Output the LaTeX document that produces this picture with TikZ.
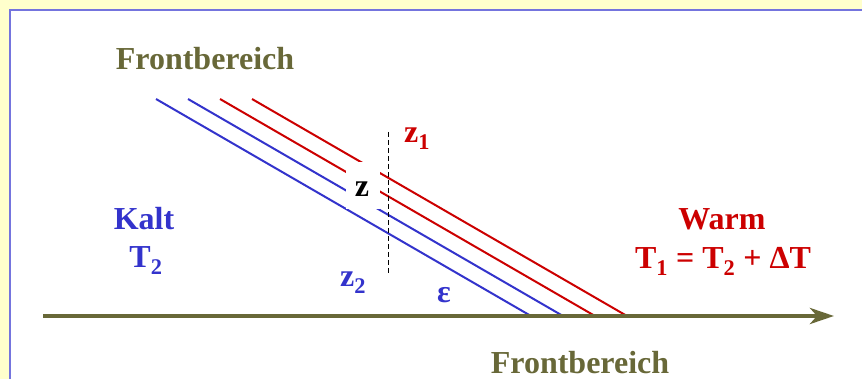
\documentclass[tikz,border=0pt]{standalone}
\usepackage{fontspec}
\setmainfont{Liberation Serif}
\usetikzlibrary{arrows.meta}

\definecolor{olivefront}{RGB}{104,104,56}
\definecolor{coldblue}{RGB}{51,51,204}
\definecolor{warmred}{RGB}{204,0,0}
\definecolor{framebg}{RGB}{255,255,204}
\definecolor{frameline}{RGB}{116,116,222}

\begin{document}
\begin{tikzpicture}[x=1pt,y=-1pt,>=Stealth,
    lbl/.style={font=\fontsize{32}{37}\selectfont\bfseries, inner sep=0pt, anchor=base},
    isoline/.style={line width=2pt}]
    % frame
    \useasboundingbox (0,0) rectangle (862,379);
    \clip (0,0) rectangle (862,379);
    \fill[framebg] (0,0) rectangle (862,379);
    \draw[frameline, line width=2.2pt, fill=white] (10,10) rectangle (890,410);

    % isolines
    \foreach \i/\col in {0/coldblue,1/coldblue,2/warmred,3/warmred} {
      \draw[isoline, \col] (156+32*\i,99) -- (531+32*\i,316);
    }

    % gap round z and cut
    \node[fill=white, inner sep=0pt, minimum width=34pt, minimum height=47pt]
      (gap) at (363,185.5) {};
    \node[lbl, text=black] (zMid) at (362,197) {z};
    \coordinate (cutTop) at (388,132);
    \coordinate (cutBot) at (388,275);
    \draw[black, line width=1pt, dash pattern=on 5pt off 3pt] (cutTop) -- (cutBot);

    % axis
    \coordinate (axisL) at (43,316);
    \coordinate (axisR) at (834,316);
    \draw[-{Stealth[length=24pt,width=16pt,inset=7pt]}, line width=4.5pt, olivefront]
      (axisL) -- (axisR);

    % labels
    \node[lbl, text=olivefront] (frontTop) at (205,70) {Frontbereich};
    \node[lbl, text=olivefront] (frontBot) at (580,373) {Frontbereich};
    \node[lbl, text=coldblue] (kalt) at (144,230) {Kalt};
    \node[lbl, text=coldblue] (kaltT) at (146,268) {T\textsubscript{2}};
    \node[lbl, text=warmred] (warm) at (722,230) {Warm};
    \node[lbl, text=warmred] (warmT) at (723,269) {T\textsubscript{1} = T\textsubscript{2} + ΔT};
    \node[lbl, anchor=base west, text=warmred] (zOne) at (404,143) {z\textsubscript{1}};
    \node[lbl, anchor=base west, text=coldblue] (zTwo) at (340,287) {z\textsubscript{2}};
    \node[lbl, anchor=base west, text=coldblue] (eps) at (437,303) {ε};
  \end{tikzpicture}
\end{document}
